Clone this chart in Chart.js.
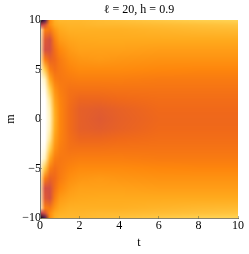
<!DOCTYPE html>
<html>
<head>
<meta charset="utf-8">
<script src="https://cdn.jsdelivr.net/npm/chart.js@4/dist/chart.umd.min.js"></script>
<style>
html, body { margin: 0; padding: 0; background: #fff; }
#wrap { width: 249px; height: 254px; }
</style>
</head>
<body>
<div id="wrap"><canvas id="myChart"></canvas></div>
<script>
var titleText = "\u2113 = 20, h = 0.9";
var xLabel = "t";
var yLabel = "m";
var xTicks = [0, 2, 4, 6, 8, 10];
var yTicks = [-10, -5, 0, 5, 10];

// values, 0 = black, 1 = white on the colour scale
var tValues = [0, 0.25, 0.5, 0.75, 1, 1.5, 2, 3, 4, 6, 8, 10];
var mValues = [10, 9.5, 9, 8, 7, 6, 5, 4, 3, 2, 1, 0, -1, -2, -3, -4, -5, -6, -7, -8, -9, -9.5, -10];
var heat = [
    [0.00, 0.20, 0.66, 0.76, 0.78, 0.78, 0.78, 0.79, 0.80, 0.82, 0.84, 0.85],
    [0.40, 0.48, 0.66, 0.74, 0.76, 0.77, 0.77, 0.78, 0.78, 0.79, 0.80, 0.81],
    [0.97, 0.62, 0.60, 0.69, 0.74, 0.76, 0.76, 0.76, 0.76, 0.77, 0.78, 0.785],
    [0.95, 0.50, 0.47, 0.62, 0.70, 0.73, 0.74, 0.745, 0.745, 0.745, 0.745, 0.745],
    [0.94, 0.47, 0.47, 0.57, 0.65, 0.70, 0.72, 0.72, 0.72, 0.71, 0.71, 0.71],
    [0.94, 0.62, 0.53, 0.55, 0.61, 0.67, 0.69, 0.70, 0.69, 0.68, 0.68, 0.68],
    [0.97, 0.82, 0.62, 0.57, 0.60, 0.64, 0.66, 0.66, 0.66, 0.65, 0.645, 0.645],
    [1.00, 0.94, 0.74, 0.62, 0.60, 0.61, 0.62, 0.62, 0.62, 0.61, 0.61, 0.61],
    [1.00, 0.98, 0.84, 0.68, 0.62, 0.58, 0.58, 0.58, 0.585, 0.585, 0.585, 0.585],
    [1.00, 1.00, 0.90, 0.72, 0.64, 0.57, 0.54, 0.54, 0.55, 0.565, 0.565, 0.565],
    [1.00, 1.00, 0.93, 0.75, 0.65, 0.56, 0.52, 0.51, 0.525, 0.55, 0.55, 0.55],
    [1.00, 1.00, 0.94, 0.76, 0.65, 0.56, 0.52, 0.50, 0.52, 0.545, 0.545, 0.545],
    [1.00, 1.00, 0.93, 0.75, 0.65, 0.56, 0.52, 0.51, 0.525, 0.55, 0.55, 0.55],
    [1.00, 1.00, 0.90, 0.72, 0.64, 0.57, 0.54, 0.54, 0.55, 0.565, 0.565, 0.565],
    [1.00, 0.98, 0.84, 0.68, 0.62, 0.58, 0.58, 0.58, 0.585, 0.585, 0.585, 0.585],
    [1.00, 0.94, 0.74, 0.62, 0.60, 0.61, 0.62, 0.62, 0.62, 0.61, 0.61, 0.61],
    [0.97, 0.82, 0.62, 0.57, 0.60, 0.64, 0.66, 0.66, 0.66, 0.65, 0.645, 0.645],
    [0.94, 0.62, 0.53, 0.55, 0.61, 0.67, 0.69, 0.70, 0.69, 0.68, 0.68, 0.68],
    [0.94, 0.47, 0.47, 0.57, 0.65, 0.70, 0.72, 0.72, 0.72, 0.71, 0.71, 0.71],
    [0.95, 0.50, 0.47, 0.62, 0.70, 0.73, 0.74, 0.745, 0.745, 0.745, 0.745, 0.745],
    [0.97, 0.62, 0.60, 0.69, 0.74, 0.76, 0.76, 0.76, 0.76, 0.77, 0.78, 0.785],
    [0.40, 0.48, 0.66, 0.74, 0.76, 0.77, 0.77, 0.78, 0.78, 0.79, 0.80, 0.81],
    [0.00, 0.20, 0.66, 0.76, 0.78, 0.78, 0.78, 0.79, 0.80, 0.82, 0.84, 0.85]
];

// colour scale
var scaleStops = [0, 0.2, 0.35, 0.45, 0.55, 0.65, 0.75, 0.85, 0.93, 1];
var scaleColors = [
    [0, 0, 0], [70, 25, 90], [150, 50, 100], [205, 75, 75], [240, 105, 25],
    [254, 135, 12], [255, 172, 30], [255, 212, 85], [255, 240, 180], [255, 255, 255]
];

function colorOf(v) {
    var i = 0;
    while (i < scaleStops.length - 2 && v > scaleStops[i + 1]) i++;
    var f = (v - scaleStops[i]) / (scaleStops[i + 1] - scaleStops[i]);
    var a = scaleColors[i], b = scaleColors[i + 1];
    return [a[0] + (b[0] - a[0]) * f, a[1] + (b[1] - a[1]) * f, a[2] + (b[2] - a[2]) * f];
}

var cells = [];
mValues.forEach(function (m, r) {
    tValues.forEach(function (t, c) {
        cells.push({ x: t, y: m, v: heat[r][c] });
    });
});

// index of the grid interval holding value, plus position inside it
function locate(list, value) {
    var i = 0;
    if (list[0] < list[1]) {
        while (i < list.length - 2 && value > list[i + 1]) i++;
    } else {
        while (i < list.length - 2 && value < list[i + 1]) i++;
    }
    var f = (value - list[i]) / (list[i + 1] - list[i]);
    return [i, Math.max(0, Math.min(1, f))];
}

// paints the grid the way a smoothed density image looks, blending colours between cells
var heatmapPlugin = {
    id: 'heatmap',
    beforeDatasetsDraw: function (chart) {
        var area = chart.chartArea, ctx = chart.ctx;
        var xs = chart.scales.x, ys = chart.scales.y;
        var left = Math.round(area.left), top = Math.round(area.top);
        var w = Math.round(area.right) - left, h = Math.round(area.bottom) - top;
        var img = ctx.createImageData(w, h);
        var nodeColors = heat.map(function (row) { return row.map(colorOf); });
        for (var py = 0; py < h; py++) {
            var ly = locate(mValues, ys.getValueForPixel(top + py + 0.5));
            for (var px = 0; px < w; px++) {
                var lx = locate(tValues, xs.getValueForPixel(left + px + 0.5));
                var r = ly[0], c = lx[0], fy = ly[1], fx = lx[1];
                for (var k = 0; k < 3; k++) {
                    var upper = nodeColors[r][c][k] * (1 - fx) + nodeColors[r][c + 1][k] * fx;
                    var lower = nodeColors[r + 1][c][k] * (1 - fx) + nodeColors[r + 1][c + 1][k] * fx;
                    img.data[(py * w + px) * 4 + k] = upper * (1 - fy) + lower * fy;
                }
                img.data[(py * w + px) * 4 + 3] = 255;
            }
        }
        ctx.putImageData(img, left, top);
    }
};

var tickFont = { family: "'Liberation Serif'", size: 12 };

var heatChart = new Chart(document.getElementById("myChart"), {
    type: 'scatter',
    data: {
        datasets: [{
            data: cells,
            pointRadius: 0,
            pointHoverRadius: 0
        }]
    },
    options: {
        responsive: true,
        maintainAspectRatio: false,
        animation: false,
        layout: { padding: { right: 11 } },
        plugins: {
            legend: { display: false },
            tooltip: { enabled: false },
            title: {
                display: true,
                text: titleText,
                fullSize: false,
                color: '#000',
                font: { family: "'Liberation Serif'", size: 12, weight: 'normal' },
                padding: { top: 3, bottom: 2.6 }
            }
        },
        scales: {
            x: {
                type: 'linear',
                min: 0,
                max: 10,
                afterFit: function (scale) { scale.height = 36; },
                afterBuildTicks: function (scale) {
                    scale.ticks = xTicks.map(function (v) { return { value: v }; });
                },
                grid: { drawOnChartArea: false, tickLength: -2, tickColor: 'rgba(90,90,60,0.5)', z: 1 },
                border: { display: true, color: 'rgba(110,100,70,0.8)', z: 1 },
                ticks: { color: '#000', font: tickFont, maxRotation: 0, padding: 3 },
                title: { display: true, text: xLabel, color: '#000', font: tickFont, padding: { top: 2, bottom: 4 } }
            },
            y: {
                type: 'linear',
                min: -10,
                max: 10,
                afterFit: function (scale) { scale.width = 40; },
                afterBuildTicks: function (scale) {
                    scale.ticks = yTicks.map(function (v) { return { value: v }; });
                },
                grid: { drawOnChartArea: false, tickLength: -2, tickColor: 'rgba(90,90,60,0.5)', z: 1 },
                border: { display: true, color: 'rgba(110,110,110,0.9)', z: 1 },
                ticks: {
                    color: '#000',
                    font: tickFont,
                    padding: 1,
                    callback: function (v) { return String(v).replace('-', '\u2212'); }
                },
                title: { display: true, text: yLabel, color: '#000', font: tickFont, padding: { top: 4, bottom: 0 } }
            }
        }
    },
    plugins: [heatmapPlugin]
});
</script>
</body>
</html>
